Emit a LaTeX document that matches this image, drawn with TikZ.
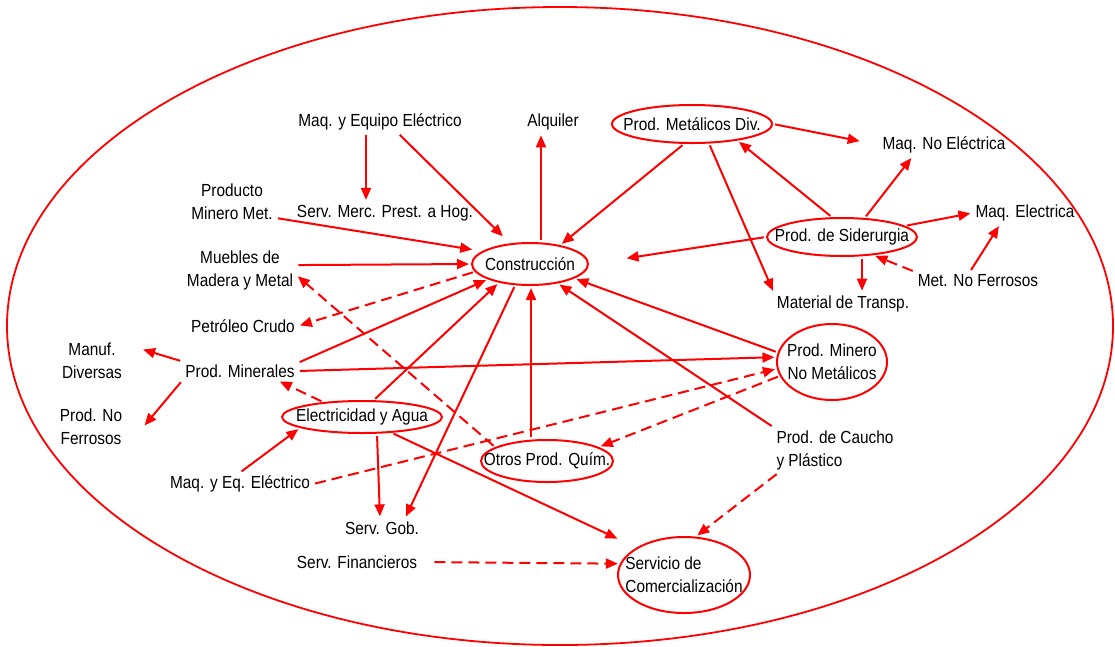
\documentclass[tikz,border=0pt]{standalone}
\usepackage{fontspec}
\setmainfont{Liberation Sans}[FakeStretch=0.88]
\usetikzlibrary{shapes,arrows.meta,positioning,calc}

\begin{document}
\begin{tikzpicture}[x=1pt,y=-1pt,
		font=\fontsize{17.5}{23}\selectfont,
		lbl/.style={inner sep=3pt, align=center},
		oval/.style={ellipse, draw=red, line width=2pt, inner xsep=-20pt, inner ysep=-6pt, align=center},
		link/.style={draw=red, line width=2pt, -{Triangle[length=12pt,width=10pt]},
			shorten <=2pt, shorten >=2pt},
		dlink/.style={link, dash pattern=on 11pt off 6pt}]
		\useasboundingbox (0,0) rectangle (1115,646);
		\draw[red, line width=1.8pt] (560,326) ellipse [x radius=553, y radius=319];

		\node[oval, minimum width=160pt, minimum height=38pt] (pmd) at (692,124) {Prod. Metálicos Div.};
		\node[oval, minimum width=116pt, minimum height=42pt] (cons) at (530,264) {Construcción};
		\node[oval, minimum width=150pt, minimum height=38pt] (sid) at (842,237) {Prod. de Siderurgia};
		\node[oval, minimum width=110pt, minimum height=76pt] (pmnm) at (832,362) {Prod. Minero\\No Metálicos};
		\node[oval, minimum width=160pt, minimum height=32pt] (elec) at (362,417) {Electricidad y Agua};
		\node[oval, minimum width=132pt, minimum height=42pt] (opq) at (547,461) {Otros Prod. Quím.};
		\node[oval, minimum width=132pt, minimum height=76pt, align=left] (scom) at (684,575) {Servicio de\\Comercialización};

		\node[lbl] (meq) at (380,122) {Maq. y Equipo Eléctrico};
		\node[lbl] (alq) at (553,122) {Alquiler};
		\node[lbl] (mne) at (944,145) {Maq. No Eléctrica};
		\node[lbl] (pmm) at (232,202) {Producto\\Minero Met.};
		\node[lbl] (smph) at (385,213) {Serv. Merc. Prest. a Hog.};
		\node[lbl] (mel) at (1025,213) {Maq. Electrica};
		\node[lbl] (mub) at (240,270) {Muebles de\\Madera y Metal};
		\node[lbl] (mnf) at (978,281) {Met. No Ferrosos};
		\node[lbl] (mtr) at (843,304) {Material de Transp.};
		\node[lbl] (pcr) at (243,326) {Petróleo Crudo};
		\node[lbl] (mdv) at (92,361) {Manuf.\\Diversas};
		\node[lbl] (pmin) at (240,371) {Prod. Minerales};
		\node[lbl] (pnf) at (91,427) {Prod. No\\Ferrosos};
		\node[lbl, align=left] (pcp) at (835,450) {Prod. de Caucho\\y Plástico};
		\node[lbl] (mqe) at (240,484) {Maq. y Eq. Eléctrico};
		\node[lbl] (sgob) at (382,528) {Serv. Gob.};
		\node[lbl] (sfin) at (357,562) {Serv. Financieros};

		\draw[link] ([xshift=-14pt]meq.south) -- ([xshift=-19pt]smph.north);
		\draw[link, shorten >=10pt] (meq.328) -- (cons.134);
		\draw[link] ([xshift=11pt]cons.north) -- ([xshift=-12pt]alq.south);
		\draw[link] (pmd.248) -- (cons.32);
		\draw[link, shorten >=20pt] (pmd.east) -- (mne.west);
		\draw[link] (pmd.311) -- (mtr.north west);
		\draw[link] (sid.117) -- (pmd.340);
		\draw[link] (sid.40) -- (mne.200);
		\draw[link] (sid.10) -- (mel.west);
		\draw[link, shorten >=38pt] (sid.west) -- (cons.east);
		\draw[link] ([xshift=20pt]sid.south) -- ([xshift=19pt]mtr.north);
		\draw[dlink] (mnf.north west) -- (sid.330);
		\draw[link] ([xshift=-8pt]mnf.north) -- ([xshift=-25pt]mel.south);
		\draw[link, shorten >=10pt] (pmm.340) -- (cons.165);
		\draw[link] (mub.5) -- (cons.west);
		\draw[dlink] (cons.188) -- (pcr.east);
		\draw[dlink] (opq.165) -- (mub.355);
		\draw[link] (pmin.8) -- (cons.200);
		\draw[link] (pmin.east) -- (pmnm.175);
		\draw[link] (pmin.north west) -- ([xshift=16pt,yshift=12pt]mdv.east);
		\draw[link] (pmin.south west) -- ([xshift=18pt]pnf.east);
		\draw[dlink] (elec.159) -- ([xshift=38pt]pmin.south);
		\draw[link] (elec.55) -- (cons.211);
		\draw[link] (cons.235) -- ([xshift=23pt]sgob.north);
		\draw[link] ([xshift=15pt]elec.south) -- ([xshift=-2pt]sgob.north);
		\draw[link, shorten >=21pt] (elec.332) -- (scom.150);
		\draw[link] (mqe.north) -- (elec.190);
		\draw[dlink] (mqe.east) -- (pmnm.187);
		\draw[link] ([xshift=-16pt]opq.north) -- ([xshift=1pt]cons.south);
		\draw[dlink] (pmnm.195) -- (opq.15);
		\draw[link] (pmnm.170) -- (cons.342);
		\draw[link] (pcp.north west) -- (cons.325);
		\draw[dlink] ([xshift=5pt]pcp.south west) -- (scom.73);
		\draw[dlink, shorten <=14pt] (sfin.east) -- (scom.170);
	\end{tikzpicture}
\end{document}
